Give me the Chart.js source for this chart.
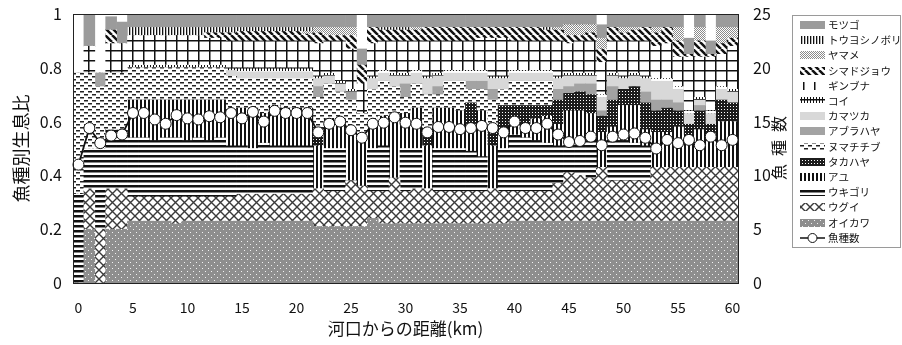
<!DOCTYPE html>
<html>
<head>
<meta charset="utf-8">
<script src="https://cdn.jsdelivr.net/npm/chart.js@4"></script>
<style>
html, body { margin: 0; background: #fff; }
</style>
</head>
<body>
<canvas id="chart" width="902" height="345"></canvas>
<script>
// distance from river mouth (km)
var distances = [0,1,2,3,4,5,6,7,8,9,10,11,12,13,14,15,16,17,18,19,20,
    21,22,23,24,25,26,27,28,29,30,31,32,33,34,35,36,37,38,39,40,
    41,42,43,44,45,46,47,48,49,50,51,52,53,54,55,56,57,58,59,60];

// habitat ratio per species, bottom of the stack first
var oikawa = [0,.20,0,.20,.20,.23,.23,.23,.23,.22, .23,.23,.23,.23,.23,.23,.23,.23,.23,.23,
    .23,.23,.21,.21,.21,.21,.21,.24,.22,.22, .22,.22,.22,.22,.22,.22,.22,.22,.22,.22,
    .23,.23,.23,.23,.23,.23,.23,.23,.23,.23, .23,.23,.23,.23,.23,.23,.23,.23,.23,.23, .23];
var ugui = [0,.15,.20,.15,.15,.09,.09,.09,.09,.10, .09,.09,.09,.09,.09,.10,.10,.10,.10,.10,
    .10,.10,.14,.13,.13,.17,.15,.10,.12,.17, .12,.13,.13,.12,.12,.12,.12,.12,.13,.12,
    .11,.11,.11,.11,.14,.18,.17,.16,.20,.15, .15,.15,.15,.20,.20,.20,.20,.20,.20,.20, .20];
var ukigori = [.33,.15,.30,.22,.22,.22,.22,.21,.22,.22, .21,.22,.21,.22,.19,.18,.17,.19,.18,.18,
    .18,.18,0,.16,.16,0,0,.16,.17,0, .16,.15,0,.16,.16,.16,.15,.13,0,.16,
    .21,.20,.19,.18,.14,.11,.13,.14,0,.15, .15,.14,.13,0,0,0,0,0,0,0, 0];
var ayu = [0,0,0,0,0,.14,.14,.15,.14,.14, .15,.14,.15,.14,.13,.14,.15,.11,.15,.14,
    .14,.14,.16,.11,.11,.18,.17,.08,.11,.21, .13,.15,.16,.15,.15,.14,.10,.17,.16,.06,
    .04,.05,.08,.10,.08,.12,.11,.10,.13,.05, .13,.14,.06,.13,.13,.15,.12,.14,.12,.17, .17];
var takahaya = [0,0,0,0,0,0,0,0,0,0, 0,0,0,0,0,0,0,0,0,0,
    0,0,.04,0,0,0,0,0,0,0, 0,0,.04,0,0,0,.08,0,.05,.10,
    .07,.07,.05,.04,.09,.065,.07,.07,.06,.10, .06,.07,.10,.08,.09,.06,.04,.07,.04,.08, .07];
var numachichibu = [.45,.28,.23,.21,.21,.12,.12,.12,.12,.12, .12,.12,.12,.12,.13,.11,.11,.13,.10,.11,
    .11,.11,.14,.13,.10,.12,.10,.14,.13,.13, .06,.09,.15,.05,.10,.11,.05,.08,.12,.06,
    .09,.09,.09,.09,0,0,0,0,0,0, 0,0,0,0,0,0,0,0,0,0, 0];
var aburahaya = [0,0,.05,0,0,0,0,0,0,0, 0,0,0,0,0,0,0,0,0,0,
    0,0,.04,0,0,.03,0,0,0,0, .05,0,0,.03,0,0,.03,.03,.04,0,
    0,0,0,0,.04,.025,.03,.04,.02,.05, 0,0,.04,.04,.03,.03,0,.02,0,0, 0];
var kamatsuka = [0,0,0,0,0,0,0,0,0,0, 0,0,0,0,.02,.025,.025,.025,.025,.025,
    .025,.025,.03,.03,.03,0,0,.04,.03,.04, .03,.04,.06,.04,.03,.03,.03,.03,.04,.04,
    .03,.03,.03,.03,.04,.04,.03,.03,.05,.04, .04,.04,.05,.07,.07,.05,.04,.02,.04,.04, .04];
var koi = [0,0,0,0,0,.01,.01,.01,.01,.01, .01,.01,.01,.01,.01,.015,.015,.015,.015,.015,
    .015,.015,.01,.01,.01,.01,0,.01,.01,.01, .01,.01,.01,.01,.01,.01,.01,.01,.01,.01,
    .01,.01,.01,.01,.01,.01,.01,.01,.01,.01, .01,.01,.01,.01,.01,.01,.01,.01,.01,.01, .01];
var ginbuna = [0,.10,0,.11,.11,.11,.11,.11,.11,.11, .11,.11,.10,.10,.10,.10,.10,.10,.10,.10,
    .10,.10,.12,.12,.15,.15,.11,.12,.11,.12, .12,.11,.13,.12,.11,.11,.11,.12,.14,.14,
    .11,.11,.11,.11,.13,.11,.12,.12,.12,.12, .13,.12,.13,.12,.13,.11,.20,.15,.20,.12, .16];
var shimadojou = [0,0,0,.05,0,0,0,0,0,0, 0,0,.02,.02,.03,.035,.035,.035,.035,.035,
    .035,.025,.04,.02,.02,.05,.07,.06,.04,.04, .04,.04,.05,.05,.05,.05,.05,.04,.04,.04,
    .05,.05,.05,.04,.04,.03,.02,.03,.05,.05, .03,.04,.05,.05,.06,.06,.01,.06,.01,.04, .03];
var yamame = [0,0,0,0,0,0,0,0,0,0, 0,0,0,0,0,0,0,0,0,0,
    0,.01,.02,.03,.03,.03,0,0,0,0, 0,.01,0,0,0,0,0,0,0,0,
    0,0,0,0,.01,.04,.04,.03,.04,0, .02,.01,0,.02,0,.05,0,.05,0,.06, .04];
var touyoshinobori = [0,0,0,0,0,.03,.03,.03,.03,.03, .03,.03,.02,.02,.02,.015,.015,.015,.015,.015,
    .015,.015,0,0,0,0,0,0,.01,.01, .01,0,0,0,0,0,0,0,0,0,
    0,0,0,.01,0,0,0,0,0,0, 0,0,0,0,0,0,0,0,0,0, 0];
var motsugo = [0,.12,0,.05,.08,.05,.05,.05,.05,.05, .05,.05,.05,.05,.05,.05,.05,.05,.05,.05,
    .05,.05,.05,.05,.05,.05,.06,.05,.05,.05, .05,.05,.05,.05,.05,.05,.05,.05,.05,.05,
    .05,.05,.05,.05,.05,.04,.04,.04,.05,.05, .05,.05,.05,.05,.05,.05,.06,.05,.05,.05, .05];

// number of species (right axis)
var speciesCount = [11,14.4,13,13.7,13.8,15.8,15.8,15.2,14.8,15.6, 15.3,15.2,15.5,15.4,15.8,15.3,15.9,15,16,15.8,
    15.8,15.8,14,14.8,15,14.2,13.5,14.8,14.9,15.4, 14.9,14.8,14,14.5,14.5,14.3,14.4,14.6,14.4,14,
    15,14.4,14.4,14.8,13.8,13.1,13.2,13.6,12.8,13.6, 13.8,13.9,13.5,12.5,13.3,13,13.3,12.8,13.6,12.8, 13.3];

var speciesNames = ['オイカワ','ウグイ','ウキゴリ','アユ','タカハヤ','ヌマチチブ','アブラハヤ',
    'カマツカ','コイ','ギンブナ','シマドジョウ','ヤマメ','トウヨシノボリ','モツゴ'];
var speciesData = [oikawa, ugui, ukigori, ayu, takahaya, numachichibu, aburahaya,
    kamatsuka, koi, ginbuna, shimadojou, yamame, touyoshinobori, motsugo];

var chartNode = document.getElementById('chart');
var ctx = chartNode.getContext('2d');
var FONT = "'Noto Sans CJK JP', 'Noto Sans', sans-serif";
var INK = '#111';

// tile patterns, one per species (monochrome print style)
function makePattern(w, h, draw) {
    var tile = document.createElement('canvas');
    tile.width = w;
    tile.height = h;
    var g = tile.getContext('2d');
    g.fillStyle = '#fff';
    g.fillRect(0, 0, w, h);
    draw(g, w, h);
    return ctx.createPattern(tile, 'repeat');
}

var fills = [
    // オイカワ
    makePattern(6, 6, function (g) {
        g.fillStyle = '#8e8e8e'; g.fillRect(0, 0, 6, 6);
        g.fillStyle = '#f2f2f2'; g.fillRect(1, 1, 1, 1); g.fillRect(4, 4, 1, 1);
    }),
    // ウグイ
    makePattern(9, 9, function (g) {
        g.strokeStyle = '#3a3a3a'; g.lineWidth = 1.4;
        g.beginPath();
        g.moveTo(0, 0); g.lineTo(9, 9);
        g.moveTo(9, 0); g.lineTo(0, 9);
        g.stroke();
    }),
    // ウキゴリ
    makePattern(4, 5, function (g) {
        g.fillStyle = '#111'; g.fillRect(0, 0, 4, 2.5);
    }),
    // アユ
    makePattern(4, 4, function (g) {
        g.fillStyle = '#111'; g.fillRect(0, 0, 2, 4);
    }),
    // タカハヤ
    makePattern(3, 3, function (g) {
        g.fillStyle = '#1c1c1c'; g.fillRect(0, 0, 3, 3);
        g.fillStyle = '#fff'; g.fillRect(1, 1, 1, 1);
    }),
    // ヌマチチブ
    makePattern(8, 6, function (g) {
        g.fillStyle = '#222';
        g.fillRect(0, 1, 4, 1.5);
        g.fillRect(4, 4, 4, 1.5);
    }),
    // アブラハヤ
    '#a3a3a3',
    // カマツカ
    '#d8d8d8',
    // コイ
    makePattern(3, 8, function (g) {
        g.fillStyle = '#111';
        g.fillRect(0, 3, 3, 1.5);
        g.fillRect(0, 1, 1, 6);
    }),
    // ギンブナ
    makePattern(11, 10, function (g) {
        g.fillStyle = '#111';
        g.fillRect(0, 0, 1.5, 10);
        g.fillRect(0, 0, 11, 1.5);
    }),
    // シマドジョウ
    makePattern(7, 7, function (g) {
        g.strokeStyle = '#111'; g.lineWidth = 2.5;
        g.beginPath();
        [-7, 0, 7].forEach(function (o) { g.moveTo(o, 0); g.lineTo(o + 7, 7); });
        g.stroke();
    }),
    // ヤマメ
    makePattern(2, 2, function (g) {
        g.fillStyle = '#8a8a8a';
        g.fillRect(0, 0, 1, 1); g.fillRect(1, 1, 1, 1);
    }),
    // トウヨシノボリ
    makePattern(3, 3, function (g) {
        g.fillStyle = '#111'; g.fillRect(0, 0, 1.3, 3);
    }),
    // モツゴ
    '#9b9b9b'
];

var datasets = speciesNames.map(function (name, i) {
    return {
        type: 'bar',
        label: name,
        data: speciesData[i],
        backgroundColor: fills[i],
        borderWidth: 0,
        barPercentage: 1,
        categoryPercentage: 1,
        yAxisID: 'y',
        order: 2
    };
});
datasets.push({
    type: 'line',
    label: '魚種数',
    data: speciesCount,
    borderColor: '#111',
    borderWidth: 1.8,
    pointRadius: 5.5,
    pointBackgroundColor: '#fff',
    pointBorderColor: '#111',
    pointBorderWidth: 1,
    yAxisID: 'y2',
    order: 1
});

// frame, right axis title and boxed legend
var decorPlugin = {
    id: 'decor',
    afterDraw: function (chart) {
        var c = chart.ctx;
        var a = chart.chartArea;
        c.save();
        c.strokeStyle = '#222';
        c.lineWidth = 1;
        c.strokeRect(Math.round(a.left) + 0.5, Math.round(a.top) + 0.5,
            Math.round(a.right - a.left), Math.round(a.bottom - a.top));

        // right axis title, read bottom to top
        c.fillStyle = INK;
        c.font = '16px ' + FONT;
        c.translate(779, 148);
        c.rotate(-Math.PI / 2);
        c.textAlign = 'center';
        c.textBaseline = 'middle';
        ['魚', '種', '数'].forEach(function (ch, i) {
            c.fillText(ch, (i - 1) * 24, 0);
        });
        c.restore();

        // legend
        c.save();
        c.strokeStyle = '#9a9a9a';
        c.lineWidth = 1;
        c.strokeRect(792.5, 15.5, 108, 232);
        c.font = '10.5px ' + FONT;
        c.textBaseline = 'middle';
        var items = chart.data.datasets.slice(0, speciesNames.length).reverse();
        items.push(chart.data.datasets[speciesNames.length]);
        items.forEach(function (ds, i) {
            var y = Math.round(25 + i * 15.2);
            if (ds.type === 'line') {
                c.strokeStyle = '#111';
                c.lineWidth = 1.5;
                c.beginPath();
                c.moveTo(800, y); c.lineTo(825, y);
                c.stroke();
                c.beginPath();
                c.arc(812.5, y, 4.5, 0, Math.PI * 2);
                c.fillStyle = '#fff';
                c.fill();
                c.lineWidth = 1;
                c.stroke();
            } else {
                c.fillStyle = ds.backgroundColor;
                c.fillRect(800, y - 4, 25, 8);
            }
            c.fillStyle = INK;
            c.fillText(ds.label, 828, y + 0.5);
        });
        c.restore();
    }
};

// keep the plot box fixed: no extra room for overhanging tick labels
function noOverhang(s) {
    s.paddingTop = 0;
    s.paddingBottom = 0;
}

var chart = new Chart(chartNode, {
    data: {
        labels: distances,
        datasets: datasets
    },
    options: {
        responsive: false,
        animation: false,
        layout: { padding: { top: 14, left: 0, right: 0, bottom: 0 } },
        plugins: {
            legend: { display: false },
            title: { display: false },
            tooltip: { enabled: false }
        },
        scales: {
            x: {
                type: 'category',
                stacked: true,
                grid: { display: false, drawTicks: false },
                border: { display: false },
                ticks: {
                    autoSkip: false,
                    maxRotation: 0,
                    padding: 16,
                    color: INK,
                    font: { family: FONT, size: 14 },
                    callback: function (val, i) { return i % 5 === 0 ? String(distances[i]) : ''; }
                },
                title: {
                    display: true,
                    text: '河口からの距離(km)',
                    color: INK,
                    font: { family: FONT, size: 17 },
                    padding: { top: 0, bottom: 6 }
                },
                afterFit: function (s) { s.height = 62; s.paddingLeft = 0; s.paddingRight = 0; }
            },
            y: {
                position: 'left',
                stacked: true,
                min: 0,
                max: 1,
                grid: { display: false, drawTicks: false },
                border: { display: false },
                ticks: {
                    stepSize: 0.2,
                    padding: 11,
                    color: INK,
                    font: { family: FONT, size: 16 },
                    callback: function (v) { return (v === 0 || v === 1) ? String(v) : v.toFixed(1); }
                },
                title: {
                    display: true,
                    text: '魚種別生息比',
                    color: INK,
                    font: { family: FONT, size: 18 },
                    padding: { top: 10, bottom: 0 }
                },
                afterFit: function (s) { s.width = 73; noOverhang(s); }
            },
            y2: {
                position: 'right',
                min: 0,
                max: 25,
                grid: { display: false, drawTicks: false },
                border: { display: false },
                ticks: {
                    stepSize: 5,
                    padding: 15,
                    color: INK,
                    font: { family: FONT, size: 16 }
                },
                afterFit: function (s) { s.width = 164; noOverhang(s); }
            }
        }
    },
    plugins: [decorPlugin]
});
</script>
</body>
</html>
